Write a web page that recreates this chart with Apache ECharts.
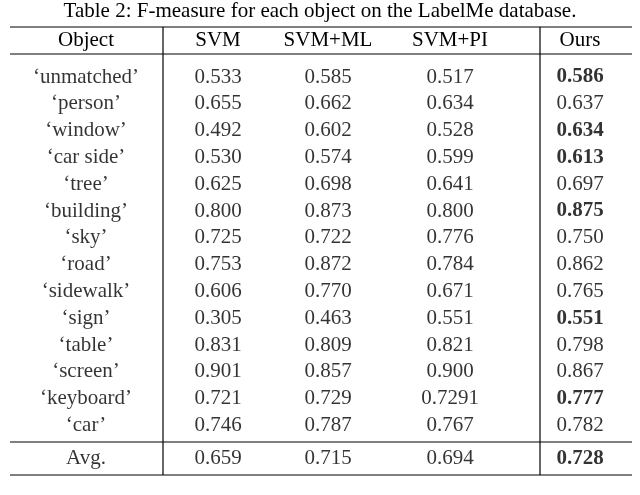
<!DOCTYPE html>
<html><head><meta charset="utf-8">
<script src="https://cdn.jsdelivr.net/npm/echarts@6/dist/echarts.min.js"></script>
<style>html,body{margin:0;padding:0;background:#fff}#c{width:640px;height:495px}</style>
</head><body><div id="c"></div>
<script>
const title = "Table 2: F-measure for each object on the LabelMe database.";
const headers = ["Object", "SVM", "SVM+ML", "SVM+PI", "Ours"];
const objects = ["‘unmatched’","‘person’","‘window’","‘car side’","‘tree’","‘building’","‘sky’","‘road’","‘sidewalk’","‘sign’","‘table’","‘screen’","‘keyboard’","‘car’","Avg."];
const svm   = ["0.533","0.655","0.492","0.530","0.625","0.800","0.725","0.753","0.606","0.305","0.831","0.901","0.721","0.746","0.659"];
const svmML = ["0.585","0.662","0.602","0.574","0.698","0.873","0.722","0.872","0.770","0.463","0.809","0.857","0.729","0.787","0.715"];
const svmPI = ["0.517","0.634","0.528","0.599","0.641","0.800","0.776","0.784","0.671","0.551","0.821","0.900","0.7291","0.767","0.694"];
const ours  = ["0.586","0.637","0.634","0.613","0.697","0.875","0.750","0.862","0.765","0.551","0.798","0.867","0.777","0.782","0.728"];
const oursBold = [1,0,1,1,0,1,0,0,0,1,0,0,1,0,1];

const colX = [86, 218, 328, 450, 580];
const rowPos = objects.map((_, i) => i < 14 ? i : 14.22);
const cols = [objects, svm, svmML, svmPI, ours];
const data = [];
cols.forEach((col, c) => col.forEach((t, r) => {
  data.push({value: [colX[c], rowPos[r]], text: t, bold: c === 4 && oursBold[r]});
}));
const F = "'Liberation Serif', 'DejaVu Serif', serif";
const line = (x1,y1,x2,y2,w) => ({type:'line', shape:{x1,y1,x2,y2}, style:{stroke:'#000', lineWidth:w||1.2}});
const chart = echarts.init(document.getElementById('c'));
chart.setOption({
  animation:false,
  grid:{left:0,right:0,top:63.6,bottom:16},
  xAxis:{type:'value',min:0,max:640,show:false},
  yAxis:{type:'value',min:-0.5,max:15,inverse:true,show:false},
  series:[{
    type:'scatter', symbolSize:0, data:data,
    label:{show:true, position:'inside', fontFamily:F, fontSize:21, color:'#000',
      formatter:p=>p.data.bold?'{b|'+p.data.text+'}':p.data.text,
      rich:{b:{fontWeight:'bold',fontFamily:F,fontSize:21,color:'#000'}}}
  }],
  graphic:[
    {type:'text', left:'center', top:1, style:{text:title, fontFamily:F, fontSize:21, fill:'#000'}},
    ...headers.map((h,i)=>({type:'text', x:colX[i], y:40, style:{text:h, fontFamily:F, fontSize:21, fill:'#000', align:'center', verticalAlign:'middle'}})),
    line(10,27,632,27), line(10,54,632,54), line(10,442,632,442), line(10,475,632,475),
    line(163,27,163,475), line(540,27,540,475)
  ]
});
</script></body></html>
